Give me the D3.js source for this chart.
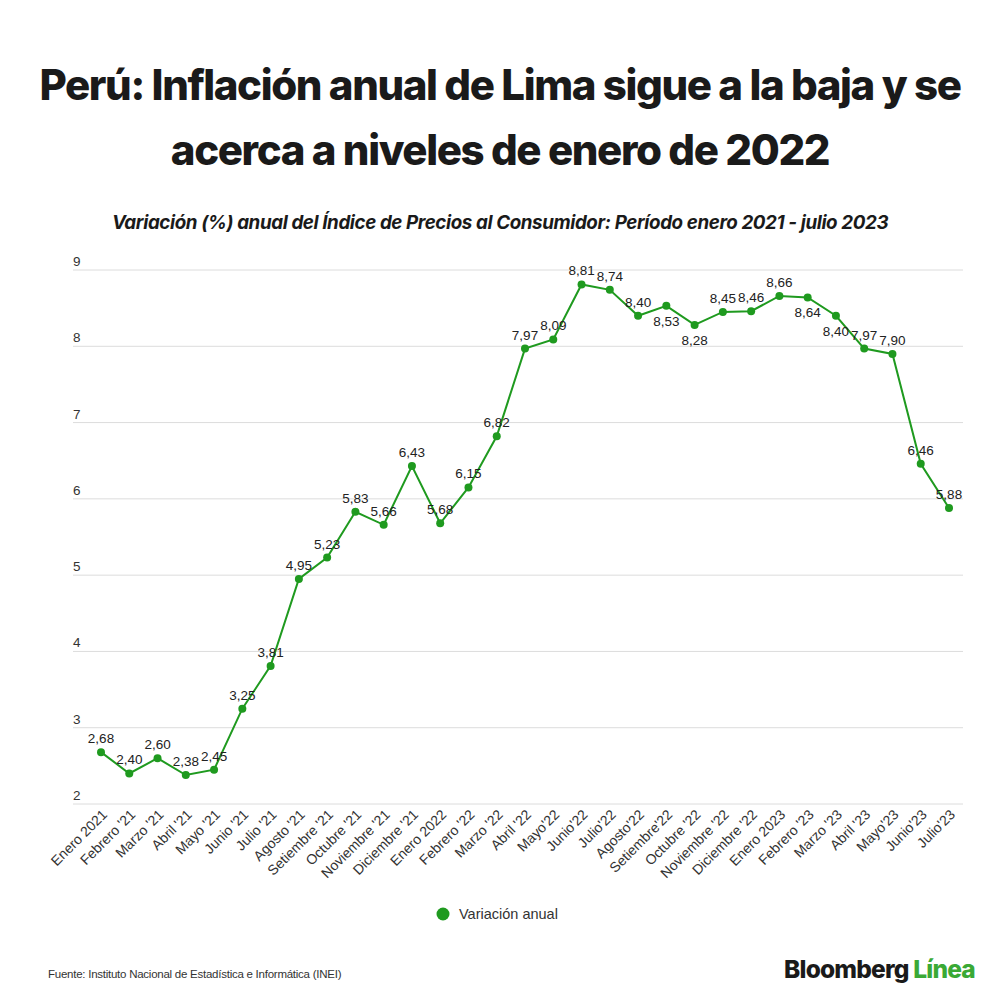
<!DOCTYPE html>
<html>
<head>
<meta charset="utf-8">
<script src="https://cdn.jsdelivr.net/npm/d3@7"></script>
<style>
  body { margin: 0; background: #fff; }
  svg { display: block; }
</style>
</head>
<body>
<div id="chart"></div>
<script>
// Months shown on the x axis
const months = [
  "Enero 2021", "Febrero '21", "Marzo '21", "Abril '21", "Mayo '21", "Junio '21",
  "Julio '21", "Agosto '21", "Setiembre '21", "Octubre '21", "Noviembre '21",
  "Diciembre '21", "Enero 2022", "Febrero '22", "Marzo '22", "Abril '22",
  "Mayo'22", "Junio'22", "Julio'22", "Agosto'22", "Setiembre'22", "Octubre '22",
  "Noviembre '22", "Diciembre '22", "Enero 2023", "Febrero '23", "Marzo '23",
  "Abril '23", "Mayo'23", "Junio'23", "Julio'23"
];

// Annual variation of the CPI (%)
const inflation = [
  2.68, 2.40, 2.60, 2.38, 2.45, 3.25, 3.81, 4.95, 5.23, 5.83, 5.66, 6.43,
  5.68, 6.15, 6.82, 7.97, 8.09, 8.81, 8.74, 8.40, 8.53, 8.28, 8.45, 8.46,
  8.66, 8.64, 8.40, 7.97, 7.90, 6.46, 5.88
];

const yTicks = [2, 3, 4, 5, 6, 7, 8, 9];

// Labels that sit under their point instead of above it
const labelsBelow = ["Setiembre'22", "Octubre '22", "Febrero '23", "Marzo '23"];

const width = 1000;
const height = 1000;
const green = "#1f9a1f";
const sans = "'Liberation Sans', Arial, sans-serif";

const svg = d3
  .select("#chart")
  .append("svg")
  .attr("width", width)
  .attr("height", height)
  .attr("viewBox", [0, 0, width, height]);

// Title, two lines
const title = svg
  .append("text")
  .attr("text-anchor", "middle")
  .attr("font-family", "Inter, sans-serif")
  .attr("font-weight", 800)
  .attr("font-size", 42)
  .attr("letter-spacing", -1.4)
  .attr("fill", "#1a1a1a");
title.append("tspan").attr("x", 500).attr("y", 100)
  .text("Perú: Inflación anual de Lima sigue a la baja y se");
title.append("tspan").attr("x", 500).attr("y", 165)
  .text("acerca a niveles de enero de 2022");

// Subtitle
svg
  .append("text")
  .attr("x", 500)
  .attr("y", 229)
  .attr("text-anchor", "middle")
  .attr("font-family", "Inter, sans-serif")
  .attr("font-weight", 700)
  .attr("font-style", "italic")
  .attr("font-size", 18.8)
  .attr("letter-spacing", -0.4)
  .attr("fill", "#1a1a1a")
  .text("Variación (%) anual del Índice de Precios al Consumidor: Período enero 2021 - julio 2023");

// Scales
const x = d3.scalePoint().domain(months).range([101, 949]);
const y = d3.scaleLinear().domain([2, 9]).range([804, 270]);

// Horizontal grid with the tick number sitting on top of each line
const grid = svg.append("g");
grid
  .selectAll("line")
  .data(yTicks)
  .join("line")
  .attr("x1", 73)
  .attr("x2", 963)
  .attr("y1", (d) => y(d))
  .attr("y2", (d) => y(d))
  .attr("stroke", "#dcdcdc")
  .attr("stroke-width", 1);
grid
  .selectAll("text")
  .data(yTicks)
  .join("text")
  .attr("x", 73)
  .attr("y", (d) => y(d) - 4)
  .attr("font-family", sans)
  .attr("font-size", 13.5)
  .attr("fill", "#333")
  .text((d) => d);

// X axis labels, rotated
svg
  .append("g")
  .attr("transform", "translate(0,812)")
  .call(d3.axisBottom(x).tickSize(0).tickPadding(0))
  .call((g) => g.select(".domain").remove())
  .call((g) =>
    g
      .selectAll("text")
      .attr("font-family", sans)
      .attr("font-size", 14)
      .attr("fill", "#333")
      .attr("text-anchor", "end")
      .attr("dy", "0.35em")
      .attr("transform", "translate(3,0) rotate(-45)")
      .attr("y", 0)
      .attr("x", 0),
  );

// The line
const data = months.map((m, i) => ({ month: m, value: inflation[i] }));
const line = d3
  .line()
  .x((d) => x(d.month))
  .y((d) => y(d.value));

svg
  .append("path")
  .datum(data)
  .attr("fill", "none")
  .attr("stroke", green)
  .attr("stroke-width", 2)
  .attr("d", line);

svg
  .append("g")
  .selectAll("circle")
  .data(data)
  .join("circle")
  .attr("cx", (d) => x(d.month))
  .attr("cy", (d) => y(d.value))
  .attr("r", 4)
  .attr("fill", green);

// Value labels
const fmt = (v) => v.toFixed(2).replace(".", ",");
svg
  .append("g")
  .selectAll("text")
  .data(data)
  .join("text")
  .attr("x", (d) => x(d.month))
  .attr("y", (d) => y(d.value) + (labelsBelow.includes(d.month) ? 20 : -9))
  .attr("text-anchor", "middle")
  .attr("font-family", sans)
  .attr("font-size", 13.5)
  .attr("fill", "#222")
  .text((d) => fmt(d.value));

// Legend
const legend = svg.append("g").attr("transform", "translate(443,914)");
legend.append("circle").attr("r", 6.5).attr("fill", green);
legend
  .append("text")
  .attr("x", 16)
  .attr("dy", "0.35em")
  .attr("font-family", sans)
  .attr("font-size", 14.5)
  .attr("fill", "#333")
  .text("Variación anual");

// Source
svg
  .append("text")
  .attr("x", 48)
  .attr("y", 978)
  .attr("font-family", sans)
  .attr("font-size", 11.5)
  .attr("letter-spacing", -0.25)
  .attr("fill", "#333")
  .text("Fuente: Instituto Nacional de Estadística e Informática (INEI)");

// Brand
const brand = svg
  .append("text")
  .attr("x", 975)
  .attr("y", 978)
  .attr("text-anchor", "end")
  .attr("font-family", "Inter, sans-serif")
  .attr("font-weight", 800)
  .attr("font-size", 24.5)
  .attr("letter-spacing", -0.8);
brand.append("tspan").attr("fill", "#1a1a1a").text("Bloomberg ");
brand.append("tspan").attr("fill", "#3aa935").text("Línea");
</script>
</body>
</html>
